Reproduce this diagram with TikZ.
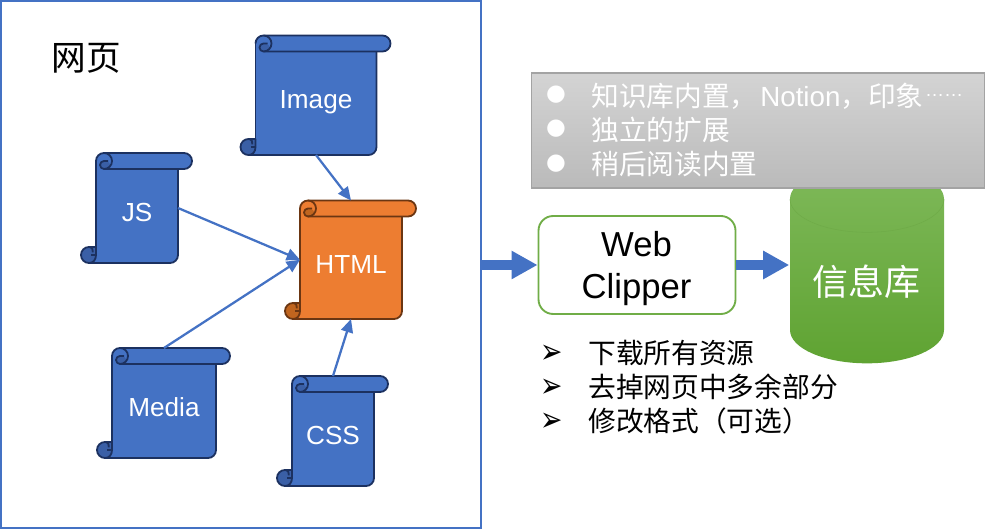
\documentclass[tikz,border=0pt]{standalone}
\usepackage{fontspec}
\usepackage{graphicx}
\setmainfont{Liberation Sans}
\newfontfamily\cjk{Noto Sans CJK SC}
\newfontfamily\symfont{DejaVu Sans}
\usetikzlibrary{arrows.meta,calc}
\definecolor{framec}{HTML}{4472C4}
\definecolor{bluef}{HTML}{4472C4}
\definecolor{blued}{HTML}{3A5FA6}
\definecolor{bluel}{HTML}{1C3160}
\definecolor{orangef}{HTML}{ED7D31}
\definecolor{oranged}{HTML}{C0651F}
\definecolor{orangel}{HTML}{6B3612}
\definecolor{greenl}{HTML}{70AD47}
\definecolor{dbtop}{HTML}{7FB95A}
\definecolor{dbbot}{HTML}{5FA332}
\definecolor{dbline}{HTML}{6FAB48}
\tikzset{
  x=.75pt,y=-.75pt,
  scrollline/.style={line width=1.35pt,line join=round},
  scrolltext/.style={text=white,anchor=base,inner sep=0pt,font=\fontsize{19.6}{23}\selectfont},
  link/.style={draw=framec,line width=1.7pt,-{Stealth[length=10pt,width=9pt,inset=0pt]}},
  fat/.style={draw=framec,line width=7.5pt,-{Triangle[length=19.5pt,width=20pt]},shorten >=0pt},
  listtext/.style={anchor=west,inner sep=0pt,font=\fontsize{20.8}{24}\selectfont},
  graytext/.style={listtext,text=white},
  glyphmark/.style={inner sep=0pt},
  clipline/.style={anchor=base,inner sep=0pt,font=\fontsize{26}{30}\selectfont},
}
\newcommand{\chev}{\scalebox{1}[1.3]{\symfont\fontsize{20}{22}\selectfont ➢}}
\newcommand{\scrollbox}[7]{%
  \begin{scope}[shift={(#2,#3)}]
    \fill[#6f] (0,8) arc[start angle=180,end angle=90,radius=6pt] -- (#4+6,0)
      arc[start angle=90,end angle=-90,radius=6pt] -- (#4,16) -- (#4,#5-8)
      arc[start angle=0,end angle=-90,radius=6pt] -- (-7,#5)
      arc[start angle=-90,end angle=-270,radius=6pt] -- (0,#5-16) -- cycle;
    \fill[#6d] (-7,#5) arc[start angle=-90,end angle=-270,radius=6pt] -- (0,#5-16) -- (0,#5-8)
      .. controls (0,#5-3) and (-3,#5) .. (-7,#5) -- cycle;
    \fill[#6d] (8,16) arc[start angle=-90,end angle=-270,radius=3pt]
      .. controls (12,8) and (15,10) .. (14,14) .. controls (13,16) and (10,16) .. (8,16) -- cycle;
    \draw[#6l,scrollline] (0,8) arc[start angle=180,end angle=90,radius=6pt] -- (#4+6,0)
      arc[start angle=90,end angle=-90,radius=6pt] -- (8,16);
    \draw[#6l,scrollline] (#4,16) -- (#4,#5-8)
      arc[start angle=0,end angle=-90,radius=6pt] -- (-7,#5)
      arc[start angle=-90,end angle=-270,radius=6pt] -- (0,#5-16) -- (0,#5-8)
      .. controls (0,#5-3) and (-3,#5) .. (-7,#5);
    \draw[#6l,scrollline] (0,8) -- (0,#5-16);
    \draw[#6l,scrollline] (8,0) arc[start angle=90,end angle=-90,radius=6pt]
      arc[start angle=-90,end angle=-270,radius=3pt] -- (12,8);
    \draw[#6l,scrollline] (-7,#5-16) arc[start angle=90,end angle=-20,radius=3pt];
    \draw[#6l,scrollline] (-5,#5-8) -- (0,#5-8);
    \node[minimum width={(#4)*.75pt},minimum height={(#5)*.75pt},inner sep=0pt,outer sep=0pt] (#1) at (#4/2,#5/2) {};
    \node[scrolltext] (#1t) at (#4/2,#5/2+13.3) {#7};
  \end{scope}}
\begin{document}
\begin{tikzpicture}
\useasboundingbox (0,0) rectangle (986,530);
\node[draw=framec,line width=1.5pt,minimum width=479.5*.75pt,minimum height=527*.75pt,inner sep=0pt,outer sep=0pt] (frame) at (241,264.5) {};
\node[anchor=center,inner sep=0pt,font=\cjk\fontsize{26}{30}\selectfont] (title) at (86,58) {网页};
% database
\path[top color=dbtop,bottom color=dbbot]
  (790,199) arc[start angle=180,end angle=0,x radius=57.75pt,y radius=25pt]
  -- (944,330) arc[start angle=0,end angle=-180,x radius=57.75pt,y radius=25pt] -- cycle;
\draw[dbline,line width=.4pt] (790,199) arc[start angle=180,end angle=360,x radius=57.75pt,y radius=25pt];
\node[inner sep=0pt,text=white,font=\cjk\fontsize{27}{30}\selectfont,minimum width=154*.75pt,minimum height=197*.75pt] (db) at (866.5,282) {信息库};
% gray box
\node[draw=black!36,line width=1pt,top color=black!17,bottom color=black!27,minimum width=453*.75pt,minimum height=115*.75pt,inner sep=0pt,outer sep=0pt] (note) at (758,130.5) {};
\node[glyphmark,text=white,font=\symfont\fontsize{17}{20}\selectfont] (b1) at (556,95) {●};
\node[glyphmark,text=white,font=\symfont\fontsize{17}{20}\selectfont] (b2) at (556,129) {●};
\node[glyphmark,text=white,font=\symfont\fontsize{17}{20}\selectfont] (b3) at (556,164) {●};
\node[graytext] (g1) at (591,96) {{\cjk 知识库内置，}\hspace{2pt}Notion{\cjk ，印象}\hspace{1pt}\raisebox{7pt}{\fontsize{14.3}{16}\selectfont ……}};
\node[graytext,font=\cjk\fontsize{20.8}{24}\selectfont] (g2) at (591,130) {独立的扩展};
\node[graytext,font=\cjk\fontsize{20.8}{24}\selectfont] (g3) at (591,164) {稍后阅读内置};
% scrolls
\scrollbox{img}{255.5}{35.5}{121}{119.5}{blue}{Image}
\scrollbox{js}{96}{153}{82}{110}{blue}{JS}
\scrollbox{media}{112}{348}{104}{110}{blue}{Media}
\scrollbox{css}{292}{376}{82}{110}{blue}{CSS}
\scrollbox{html}{300}{200.5}{102}{118.5}{orange}{HTML}
\draw[link] (img.south) -- (html.north);
\draw[link] (js.east) -- (html.west);
\draw[link] (media.north) -- (html.west);
\draw[link] (css.north) -- (html.south);
% clipper
\node[draw=greenl,line width=1.4pt,rounded corners=11pt,fill=white,minimum width=197*.75pt,minimum height=98*.75pt,inner sep=0pt] (clip) at (637,265) {};
\node[clipline] (web) at (636.5,257) {Web};
\node[clipline] (clipper) at (636.5,299) {Clipper};
\draw[fat] (frame.east |- clip.west) -- (clip.west);
\draw[fat] (clip.east) -- (clip.east -| db.west);
% list
\node[glyphmark,text height=9pt,text depth=0pt] (a1) at (552,358) {\smash{\chev}};
\node[glyphmark,text height=9pt,text depth=0pt] (a2) at (552,392) {\smash{\chev}};
\node[glyphmark,text height=9pt,text depth=0pt] (a3) at (552,426) {\smash{\chev}};
\node[listtext,font=\cjk\fontsize{20.8}{24}\selectfont] (l1) at (588,353) {下载所有资源};
\node[listtext,font=\cjk\fontsize{20.8}{24}\selectfont] (l2) at (588,387) {去掉网页中多余部分};
\node[listtext,font=\cjk\fontsize{20.8}{24}\selectfont] (l3) at (588,421) {修改格式（可选）};
\end{tikzpicture}
\end{document}
